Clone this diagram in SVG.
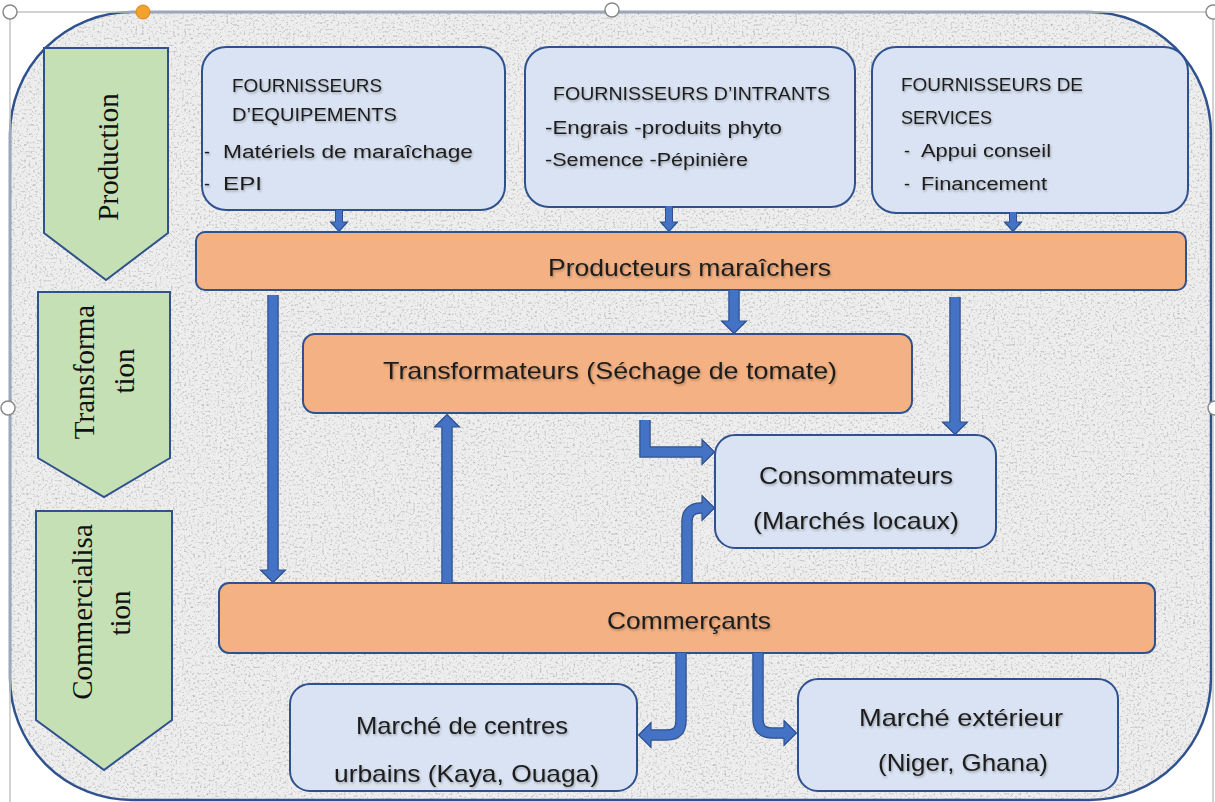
<svg xmlns="http://www.w3.org/2000/svg" width="1215" height="802" viewBox="0 0 1215 802">
<defs>
<style>
.box{fill:#dae3f3;stroke:#2f528f;stroke-width:2}
.bar{fill:#f4b183;stroke:#2f528f;stroke-width:2}
.chev{fill:#c5e0b4;stroke:#2f528f;stroke-width:2}
.t{font-family:"Liberation Sans",Arial,sans-serif;font-size:18px;fill:#1e1e1e;filter:url(#ts)}
.tb{font-family:"Liberation Sans",Arial,sans-serif;font-size:24px;fill:#1e1e1e;filter:url(#ts)}
.ts{font-family:"Liberation Serif","Times New Roman",serif;font-size:29px;fill:#111111}
.ao{fill:none;stroke:#2f528f;stroke-linejoin:miter}
.af{fill:none;stroke:#4472c4;stroke-linejoin:miter}
.L.ao{stroke-width:11.5}.L.af{stroke-width:9}
.S.ao{stroke-width:8}.S.af{stroke-width:6}
.hd{fill:#4472c4}
.hdo{fill:none;stroke:#2f528f;stroke-width:1.2;stroke-linejoin:miter}
.sel{fill:none;stroke:#c4c4c4;stroke-width:1.5}
.hnd{fill:#ffffff;stroke:#8a8a8a;stroke-width:1.5}
</style>
<filter id="granite" x="0" y="0" width="100%" height="100%" color-interpolation-filters="sRGB">
<feTurbulence type="fractalNoise" baseFrequency="0.45" numOctaves="2" seed="11" result="noise"/>
<feColorMatrix in="noise" type="matrix" values="0 0 0 0 0.62  0 0 0 0 0.62  0 0 0 0 0.62  -2.0 0 0 0 0.95" result="speck"/>
<feComposite in="speck" in2="SourceGraphic" operator="in" result="clip"/>
<feMerge><feMergeNode in="SourceGraphic"/><feMergeNode in="clip"/></feMerge>
</filter>
<filter id="ts" x="-5%" y="-30%" width="110%" height="160%">
<feDropShadow dx="1" dy="1.5" stdDeviation="0.8" flood-color="#000" flood-opacity="0.3"/>
</filter>
<marker id="hl" markerUnits="userSpaceOnUse" markerWidth="14" markerHeight="26" refX="0" refY="13" orient="auto" overflow="visible">
<polygon class="hd" points="0,0 13,13 0,26"/>
<polyline class="hdo" points="0,8 0,0.6 12.4,13 0,25.4 0,18"/>
</marker>
<marker id="hs" markerUnits="userSpaceOnUse" markerWidth="11" markerHeight="18" refX="0" refY="9" orient="auto" overflow="visible">
<polygon class="hd" points="0,0 10,9 0,18"/>
<polyline class="hdo" points="0,5.5 0,0.6 9.4,9 0,17.4 0,12.5"/>
</marker>
</defs>

<rect width="1215" height="802" fill="#ffffff"/>

<g id="frame">
<rect x="10" y="12" width="1201" height="788" rx="122" ry="122" fill="#eeeeee" filter="url(#granite)"/>
<rect x="10" y="12" width="1201" height="788" rx="122" ry="122" fill="none" stroke="#2f528f" stroke-width="2.5"/>
</g>

<g id="selection">
<polyline class="sel" points="10,802 10,12 1213,12 1213,802"/>
<circle class="hnd" cx="10" cy="12" r="7"/>
<circle class="hnd" cx="612" cy="10" r="7"/>
<circle class="hnd" cx="1213" cy="12" r="7"/>
<circle class="hnd" cx="8" cy="408" r="7"/>
<circle class="hnd" cx="1215" cy="408" r="7"/>
<circle cx="143" cy="12" r="7" fill="#f2a12e" stroke="#d58a1c" stroke-width="1"/>
</g>

<g id="stage-production">
<polygon class="chev" points="44,48 168,48 168,233 106,280 44,233"/>
<text class="ts" transform="translate(118,157) rotate(-90)" text-anchor="middle">Production</text>
</g>
<g id="stage-transformation">
<polygon class="chev" points="38,292 170,292 170,458 104,497 38,458"/>
<text class="ts" transform="translate(94,372) rotate(-90)" text-anchor="middle">Transforma</text>
<text class="ts" transform="translate(134,371) rotate(-90)" text-anchor="middle">tion</text>
</g>
<g id="stage-commercialisation">
<polygon class="chev" points="36,511 172,511 172,720 104,770 36,720"/>
<text class="ts" transform="translate(92,612) rotate(-90)" text-anchor="middle">Commercialisa</text>
<text class="ts" transform="translate(130,613) rotate(-90)" text-anchor="middle">tion</text>
</g>

<g id="fournisseurs-equipements">
<rect class="box" x="202" y="47" width="303" height="163" rx="24"/>
<text class="t" x="232" y="92" textLength="150" lengthAdjust="spacingAndGlyphs">FOURNISSEURS</text>
<text class="t" x="232" y="121" textLength="165" lengthAdjust="spacingAndGlyphs">D’EQUIPEMENTS</text>
<text class="t" x="204" y="158">-</text>
<text class="t" x="223" y="158" textLength="250" lengthAdjust="spacingAndGlyphs">Matériels de maraîchage</text>
<text class="t" x="204" y="190">-</text>
<text class="t" x="223" y="190" textLength="39" lengthAdjust="spacingAndGlyphs">EPI</text>
</g>

<g id="fournisseurs-intrants">
<rect class="box" x="525" y="47" width="330" height="160" rx="24"/>
<text class="t" x="553" y="100" textLength="277" lengthAdjust="spacingAndGlyphs">FOURNISSEURS D’INTRANTS</text>
<text class="t" x="545" y="134" textLength="237" lengthAdjust="spacingAndGlyphs">-Engrais -produits phyto</text>
<text class="t" x="545" y="166" textLength="203" lengthAdjust="spacingAndGlyphs">-Semence -Pépinière</text>
</g>

<g id="fournisseurs-services">
<rect class="box" x="872" y="47" width="316" height="166" rx="24"/>
<text class="t" x="901" y="91" textLength="182" lengthAdjust="spacingAndGlyphs">FOURNISSEURS DE</text>
<text class="t" x="901" y="124" textLength="91" lengthAdjust="spacingAndGlyphs">SERVICES</text>
<text class="t" x="904" y="157">-</text>
<text class="t" x="921" y="157" textLength="130" lengthAdjust="spacingAndGlyphs">Appui conseil</text>
<text class="t" x="904" y="190">-</text>
<text class="t" x="921" y="190" textLength="126" lengthAdjust="spacingAndGlyphs">Financement</text>
</g>

<g id="producteurs">
<rect class="bar" x="196" y="232" width="990" height="58" rx="9"/>
<text class="tb" x="548" y="276" textLength="283" lengthAdjust="spacingAndGlyphs">Producteurs maraîchers</text>
</g>

<g id="transformateurs">
<rect class="bar" x="303" y="334" width="609" height="79" rx="12"/>
<text class="tb" x="383" y="379" textLength="454" lengthAdjust="spacingAndGlyphs">Transformateurs (Séchage de tomate)</text>
</g>

<g id="consommateurs">
<rect class="box" x="715" y="435" width="281" height="113" rx="20"/>
<text class="tb" x="759" y="484" textLength="194" lengthAdjust="spacingAndGlyphs">Consommateurs</text>
<text class="tb" x="753" y="529" textLength="206" lengthAdjust="spacingAndGlyphs">(Marchés locaux)</text>
</g>

<g id="commercants">
<rect class="bar" x="219" y="583" width="936" height="70" rx="10"/>
<text class="tb" x="607" y="629" textLength="164" lengthAdjust="spacingAndGlyphs">Commerçants</text>
</g>

<g id="marche-urbains">
<rect class="box" x="290" y="684" width="347" height="107" rx="20"/>
<text class="tb" x="356" y="734" textLength="212" lengthAdjust="spacingAndGlyphs">Marché de centres</text>
<text class="tb" x="334" y="782" textLength="265" lengthAdjust="spacingAndGlyphs">urbains (Kaya, Ouaga)</text>
</g>

<g id="marche-exterieur">
<rect class="box" x="798" y="679" width="320" height="112" rx="20"/>
<text class="tb" x="859" y="726" textLength="204" lengthAdjust="spacingAndGlyphs">Marché extérieur</text>
<text class="tb" x="878" y="771" textLength="170" lengthAdjust="spacingAndGlyphs">(Niger, Ghana)</text>
</g>

<g id="connectors">
<path class="S ao" d="M339,210 V222"/><path class="S af" d="M339,210 V222" marker-end="url(#hs)"/>
<path class="S ao" d="M669,206 V222"/><path class="S af" d="M669,206 V222" marker-end="url(#hs)"/>
<path class="S ao" d="M1013,212 V222"/><path class="S af" d="M1013,212 V222" marker-end="url(#hs)"/>
<path class="L ao" d="M734,290 V321"/><path class="L af" d="M734,290 V321" marker-end="url(#hl)"/>
<path class="L ao" d="M955,297 V422"/><path class="L af" d="M955,297 V422" marker-end="url(#hl)"/>
<path class="L ao" d="M273,295 V570"/><path class="L af" d="M273,295 V570" marker-end="url(#hl)"/>
<path class="L ao" d="M447,583 V427"/><path class="L af" d="M447,583 V427" marker-end="url(#hl)"/>
<path class="L ao" d="M645,420 V452 H702"/><path class="L af" d="M645,420 V452 H702" marker-end="url(#hl)"/>
<path class="L ao" d="M687,583 V522 Q687,508 701,508 H702"/><path class="L af" d="M687,583 V522 Q687,508 701,508 H702" marker-end="url(#hl)"/>
<path class="L ao" d="M681,653 V721 Q681,735 667,735 H651"/><path class="L af" d="M681,653 V721 Q681,735 667,735 H651" marker-end="url(#hl)"/>
<path class="L ao" d="M758,653 V719 Q758,733 772,733 H784"/><path class="L af" d="M758,653 V719 Q758,733 772,733 H784" marker-end="url(#hl)"/>
</g>
</svg>
